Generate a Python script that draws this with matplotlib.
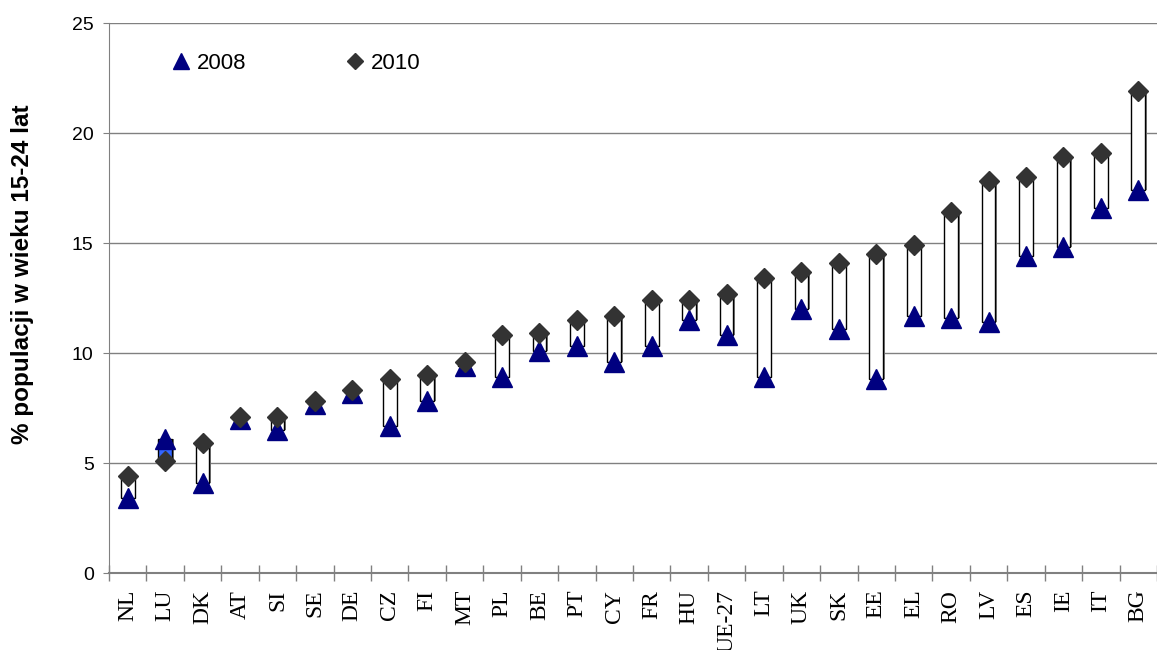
import matplotlib
matplotlib.use("Agg")
import matplotlib.pyplot as plt
from matplotlib.lines import Line2D

countries = ["NL", "LU", "DK", "AT", "SI", "SE", "DE", "CZ", "FI", "MT", "PL", "BE",
             "PT", "CY", "FR", "HU", "UE-27", "LT", "UK", "SK", "EE", "EL", "RO",
             "LV", "ES", "IE", "IT", "BG"]
val_2008 = [3.4, 6.1, 4.1, 7.0, 6.5, 7.7, 8.2, 6.7, 7.8, 9.4, 8.9, 10.1,
            10.3, 9.6, 10.3, 11.5, 10.8, 8.9, 12.0, 11.1, 8.8, 11.7, 11.6,
            11.4, 14.4, 14.8, 16.6, 17.4]
val_2010 = [4.4, 5.1, 5.9, 7.1, 7.1, 7.8, 8.3, 8.8, 9.0, 9.6, 10.8, 10.9,
            11.5, 11.7, 12.4, 12.4, 12.7, 13.4, 13.7, 14.1, 14.5, 14.9, 16.4,
            17.8, 18.0, 18.9, 19.1, 21.9]

plt.rcParams['font.family'] = ['Liberation Sans', 'DejaVu Sans']

fig = plt.figure(figsize=(11.57, 6.5), dpi=100)
ax = fig.add_axes([109/1157, 1 - 573/650, 1 - 109/1157, 550/650])

x = list(range(len(countries)))
grey = "#808080"

# up/down bars between 2008 and 2010
for i in x:
    lo = min(val_2008[i], val_2010[i])
    hi = max(val_2008[i], val_2010[i])
    face = "white" if val_2010[i] >= val_2008[i] else "#3366ff"
    ax.bar(i + 0.04, hi - lo, bottom=lo, width=0.37, color=grey, zorder=2)
    ax.bar(i, hi - lo, bottom=lo, width=0.37, color=face, edgecolor="black",
           linewidth=1, zorder=3)

ax.plot(x, val_2008, linestyle="none", marker="^", markersize=15,
        color="#000080", zorder=4)
ax.plot(x, val_2010, linestyle="none", marker="D", markersize=10.5,
        color="#333333", zorder=5)

ax.set_xlim(-0.5, (1157 - 128) / 37.78)
ax.set_ylim(0, 25)
ax.set_yticks([0, 5, 10, 15, 20, 25])
ax.yaxis.grid(True, color=grey, linewidth=1)
ax.set_axisbelow(True)

ax.set_xticks(x)
ax.set_xticklabels(countries, rotation=90, family=["Liberation Serif"], fontsize=17)
ax.set_xticks([i + 0.5 for i in range(-1, len(countries))], minor=True)
ax.tick_params(axis="x", which="major", length=0, pad=12)
ax.tick_params(axis="x", which="minor", direction="inout", length=12, color=grey, width=1)
ax.tick_params(axis="y", labelsize=14, length=4, color=grey, pad=7)

for s in ["top", "right"]:
    ax.spines[s].set_visible(False)
ax.spines["left"].set_color(grey)
ax.spines["bottom"].set_color(grey)
ax.spines["bottom"].set_linewidth(1.5)

ax.set_ylabel("% populacji w wieku 15-24 lat", fontsize=17.5, fontweight="bold")
ax.yaxis.set_label_coords(-0.072, 0.544)

handles = [Line2D([], [], linestyle="none", marker="^", markersize=12, color="#000080"),
           Line2D([], [], linestyle="none", marker="D", markersize=8, color="#333333")]
ax.legend(handles, ["2008", "2010"], ncol=2, loc="upper left",
          bbox_to_anchor=((170 - 109) / 1048, (573 - 53) / 550), frameon=False,
          fontsize=16, handlelength=1, handletextpad=0.2, columnspacing=4.4,
          borderpad=0, borderaxespad=0)

fig.savefig("out.png", dpi=100)
